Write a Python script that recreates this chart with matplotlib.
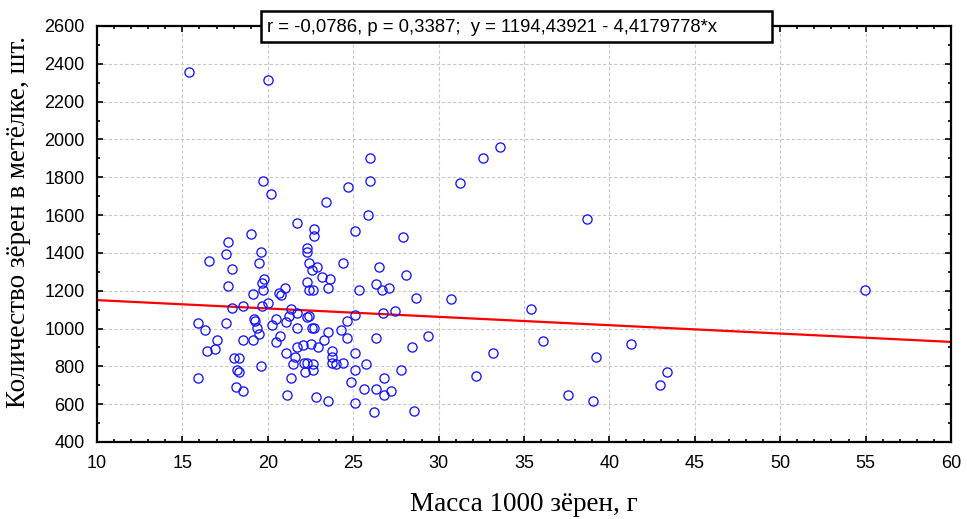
import matplotlib
matplotlib.use("Agg")
import matplotlib.pyplot as plt
from matplotlib.ticker import MultipleLocator
from matplotlib.patches import Rectangle
import numpy as np

# Mass of 1000 grains, g
mass = [15.40, 20.03, 19.70, 20.17, 24.70, 23.41, 21.71, 22.71, 22.71, 19.03,
        17.67, 25.98, 25.98, 31.25, 32.60, 33.61, 25.87, 25.11, 27.89, 38.69,
        30.71, 35.43, 54.98, 36.11, 41.26, 33.16, 39.24, 32.17, 43.38, 42.94,
        37.55, 39.02, 22.28, 22.28, 24.40, 22.39, 26.53, 22.86, 22.61, 28.11,
        23.17, 23.62, 22.28, 26.32, 21.03, 22.39, 22.65, 23.53, 25.32, 26.66,
        27.11, 20.75, 28.68, 21.37, 21.73, 21.24, 22.28, 22.39, 25.11, 26.76,
        27.45, 24.64, 21.05, 24.29, 23.53, 21.73, 22.59, 22.72, 20.74, 24.64,
        26.32, 29.36, 23.29, 22.51, 22.04, 21.73, 22.96, 28.46, 23.74, 21.05,
        25.11, 21.61, 23.74, 23.74, 23.97, 24.42, 22.28, 22.63, 22.13, 21.49,
        25.75, 25.11, 22.63, 22.18, 27.80, 21.37, 26.79, 24.87, 25.65, 26.32,
        26.79, 27.23, 21.14, 22.84, 23.53, 25.11, 26.21, 28.58, 17.55, 19.58,
        16.56, 19.46, 17.89, 19.78, 19.66, 17.67, 19.70, 19.13, 20.67, 17.89,
        18.57, 19.64, 20.03, 15.89, 16.34, 17.57, 19.21, 19.25, 19.34, 19.48,
        20.26, 20.48, 17.00, 18.57, 19.13, 20.48, 16.45, 16.92, 18.04, 18.33,
        18.21, 18.33, 19.58, 15.89, 18.12, 18.57]

# Number of grains per panicle
count = [2355, 2314, 1779, 1710, 1748, 1668, 1558, 1528, 1489, 1498,
         1456, 1902, 1779, 1770, 1900, 1960, 1599, 1517, 1486, 1578,
         1155, 1103, 1204, 932, 920, 871, 851, 749, 769, 700,
         649, 617, 1426, 1403, 1345, 1345, 1325, 1325, 1311, 1283,
         1274, 1264, 1244, 1235, 1213, 1204, 1204, 1213, 1204, 1204,
         1213, 1177, 1163, 1103, 1080, 1068, 1059, 1068, 1071, 1080,
         1093, 1041, 1033, 992, 982, 1001, 1001, 1001, 960, 952,
         952, 960, 939, 920, 911, 901, 901, 901, 881, 869,
         869, 851, 848, 819, 811, 819, 819, 811, 819, 811,
         811, 781, 781, 768, 781, 740, 740, 717, 679, 679,
         649, 668, 649, 638, 617, 608, 559, 566, 1394, 1403,
         1356, 1345, 1313, 1264, 1243, 1223, 1205, 1184, 1186, 1110,
         1121, 1121, 1133, 1031, 991, 1031, 1052, 1040, 1001, 970,
         1020, 1052, 941, 941, 941, 930, 881, 892, 843, 843,
         781, 769, 802, 738, 689, 668]

intercept = 1194.43921
slope = -4.4179778
stats_text = "r = -0,0786, p = 0,3387;  y = 1194,43921 - 4,4179778*x"

x_ticks = [10, 15, 20, 25, 30, 35, 40, 45, 50, 55, 60]
y_ticks = [400, 600, 800, 1000, 1200, 1400, 1600, 1800, 2000, 2200, 2400, 2600]

W, H = 967, 519
fig = plt.figure(figsize=(W / 100, H / 100), dpi=100)
ax = fig.add_axes([97 / W, 1 - 442 / H, (951 - 97) / W, (442 - 26) / H])

ax.set_xlim(10, 60)
ax.set_ylim(400, 2600)
ax.set_xticks(x_ticks)
ax.set_yticks(y_ticks)
ax.xaxis.set_minor_locator(MultipleLocator(1))
ax.yaxis.set_minor_locator(MultipleLocator(100))

ax.grid(True, which="major", color="#c8c8c8", linestyle=(0, (3, 2)), linewidth=0.8)
ax.set_axisbelow(True)

xs = np.array([10, 60])
ax.plot(xs, intercept + slope * xs, color="#ff0000", linewidth=1.6, zorder=2)
ax.plot(mass, count, linestyle="none", marker="o", markersize=6.6,
        markerfacecolor="none", markeredgecolor="#1414ff", markeredgewidth=0.95, zorder=3)

for s in ax.spines.values():
    s.set_linewidth(1.6)
    s.set_color("black")

ax.tick_params(which="both", direction="in", top=True, right=True, left=True, bottom=True,
               width=1.2, color="black")
ax.tick_params(which="major", length=4, pad=9, labelsize=13)
ax.tick_params(which="minor", length=2.5)
for lab in ax.get_xticklabels() + ax.get_yticklabels():
    lab.set_family("Liberation Sans")

ax.set_xlabel("Масса 1000 зёрен, г", family="Liberation Serif", fontsize=19.5, labelpad=15)
ax.set_ylabel("Количество зёрен в метёлке, шт.", family="Liberation Serif", fontsize=19.5)
ax.yaxis.set_label_coords((31 - 97) / 854, (442 - 222) / 416)

# statistics box
fig.patches.append(Rectangle((261 / W, 1 - 42 / H), (772 - 261) / W, 31 / H,
                             transform=fig.transFigure, facecolor="white",
                             edgecolor="black", linewidth=1.8, zorder=10))
fig.text(267 / W, 1 - 27 / H, stats_text, family="Liberation Sans", fontsize=13.3,
         ha="left", va="center", zorder=11)

fig.savefig("out.png", dpi=100)
